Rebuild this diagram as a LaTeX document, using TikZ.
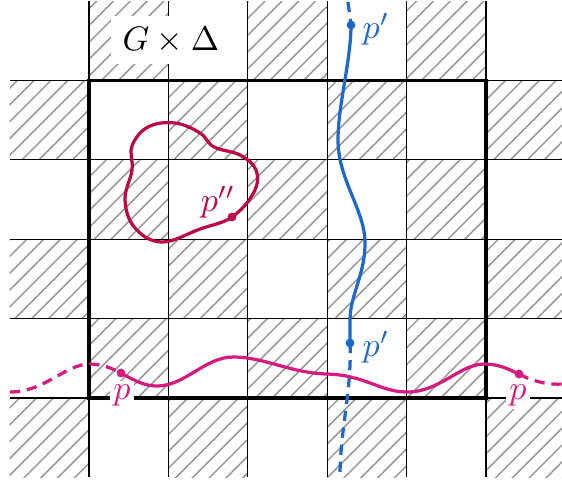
\documentclass[tikz,border=0pt]{standalone}
\usetikzlibrary{patterns.meta}
\definecolor{cblue}{RGB}{28,104,204}
\definecolor{cmag}{RGB}{214,26,128}
\definecolor{ccrim}{RGB}{188,8,72}
\begin{document}
\begin{tikzpicture}[x=0.010327cm,y=-0.010327cm,
  hatch/.style={pattern={Lines[angle=45,distance=3.5pt,line width=0.45pt]}, pattern color=gray!80},
  gridline/.style={line width=0.4pt, black},
  curve/.style={line width=0.95pt},
  dashcurve/.style={line width=0.95pt, dash pattern=on 3pt off 2pt},
  lbl/.style={inner sep=1pt},
  dotr/.style={radius=1.3pt}
]
\useasboundingbox (0,0) rectangle (562,485);
% hatched checkerboard
\foreach \i in {-1,...,5}{
  \foreach \j in {-1,...,4}{
    \ifodd\numexpr\i+\j+2\relax\else
      \fill[hatch] ({89+79.4*\i},{398-79.4*\j}) rectangle ({89+79.4*(\i+1)},{398-79.4*(\j+1)});
    \fi
  }
}
% grid lines
\foreach \j in {0,...,4} \draw[gridline] (9.6,{398-79.4*\j}) -- (565.4,{398-79.4*\j});
\foreach \i in {0,...,5} \draw[gridline] ({89+79.4*\i},1) -- ({89+79.4*\i},477.4);
% thick frame
\draw[line width=0.9pt] (89,398) rectangle (486,80.4);
\node[fill=white] (title) at (171,40) {$G\times\Delta$};

% blue curve p'
\coordinate (pt1) at (351,25);
\coordinate (pt2) at (350,343);
\draw[cblue, dashcurve] (348,2) -- (pt1);
\draw[cblue, curve] (pt1) .. controls (351,60) and (338,105) .. (338,140)
  .. controls (338,180) and (365,210) .. (365,243)
  .. controls (365,275) and (350,295) .. (350,320) -- (pt2);
\draw[cblue, dashcurve] (pt2) .. controls (352,390) and (340,430) .. (340,476);
\fill[cblue] (pt1) circle[dotr];
\fill[cblue] (pt2) circle[dotr];
\node[cblue] (lpt1) at (376,29) {$p'$};
\node[cblue] (lpt2) at (376,347) {$p'$};

% magenta curve p
\coordinate (p1) at (121,373);
\coordinate (p2) at (519,374);
\draw[cmag, dashcurve] (10,392) .. controls (45,392) and (65,364) .. (90,364)
  .. controls (103,364) and (113,369) .. (p1);
\draw[cmag, curve] (p1) .. controls (135,381) and (145,386) .. (157,386)
  .. controls (185,386) and (205,357) .. (233,357)
  .. controls (265,357) and (290,373) .. (327,374)
  .. controls (365,375) and (380,392) .. (407,392)
  .. controls (440,392) and (460,364) .. (484,364)
  .. controls (500,364) and (510,370) .. (p2);
\draw[cmag, dashcurve] (p2) .. controls (530,380) and (545,385) .. (562,384);
\fill[cmag] (p1) circle[dotr];
\fill[cmag] (p2) circle[dotr];
\node[cmag, fill=white, lbl] (lp1) at (122,395) {$p$};
\node[cmag, fill=white, lbl] (lp2) at (518,395) {$p$};

% crimson closed curve p''
\coordinate (ppp) at (232,217);
\draw[ccrim, curve] plot[smooth cycle, tension=0.65] coordinates {(132,146) (148,127) (175,123) (200,133) (214,147) (240,155) (256,170) (254,192) (232,217) (200,229) (162,242) (135,228) (125,200) (132,170)};
\fill[ccrim] (ppp) circle[dotr];
\node[ccrim] (lppp) at (218,202) {$p''$};
\end{tikzpicture}
\end{document}
